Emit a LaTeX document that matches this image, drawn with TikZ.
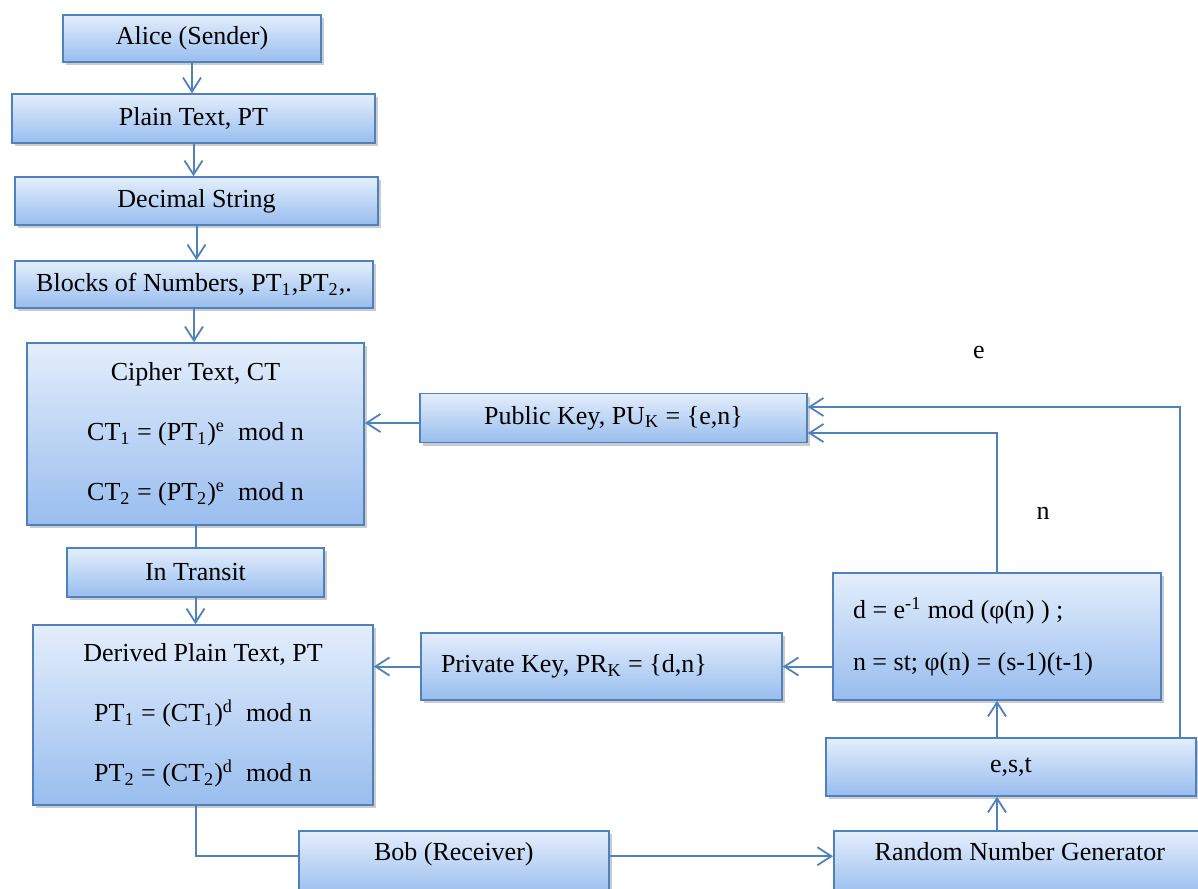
\documentclass[tikz,border=0pt]{standalone}
\usepackage{fontspec}
\setmainfont{Liberation Serif}
\usetikzlibrary{arrows.meta,shadows}
\definecolor{rsaline}{RGB}{79,129,189}
\definecolor{rsatop}{RGB}{228,238,252}
\definecolor{rsabottom}{RGB}{152,189,238}

\begin{document}
\begin{tikzpicture}[x=0.5pt,y=-0.5pt,
  box/.style={draw=rsaline, line width=0.8pt, top color=rsatop, bottom color=rsabottom,
    drop shadow={shadow xshift=1.5pt, shadow yshift=-1.5pt, opacity=0.4},
    font=\fontsize{13pt}{15.6pt}\selectfont, inner sep=0pt, align=center},
  lowbox/.style={box, anchor=north west, inner ysep=6pt, text height=9pt, text depth=12pt},
  arr/.style={draw=rsaline, line width=1pt, -{Straight Barb[length=7pt,width=9pt,line width=0.9pt]}},
  link/.style={draw=rsaline, line width=1pt}]
\useasboundingbox (0,0) rectangle (1198,888);
\clip (0,0) rectangle (1198,888);

% Alice side
\node[box, minimum width=129pt, minimum height=23.5pt] (alice) at (192,38.5) {Alice (Sender)};
\node[box, minimum width=181.5pt, minimum height=24.5pt] (plain) at (193.5,118.5) {Plain Text, PT};
\node[box, minimum width=181.5pt, minimum height=24pt] (decimal) at (196.5,201) {Decimal String};
\node[box, minimum width=179pt, minimum height=23.5pt] (blocks) at (194,284.5) {Blocks of Numbers, PT\textsubscript{1},PT\textsubscript{2},.};
\node[box, minimum width=168.5pt, minimum height=91pt] (cipher) at (195.5,434)
  {Cipher Text, CT\\[14.4pt] CT\textsubscript{1} = (PT\textsubscript{1})\textsuperscript{e}~ mod n\\[14.4pt] CT\textsubscript{2} = (PT\textsubscript{2})\textsuperscript{e}~ mod n};
\node[box, minimum width=128.5pt, minimum height=24.5pt] (transit) at (195.5,572.5) {In Transit};
\node[box, minimum width=170pt, minimum height=90pt] (derived) at (203,715)
  {Derived Plain Text, PT\\[14.4pt] PT\textsubscript{1} = (CT\textsubscript{1})\textsuperscript{d}~ mod n\\[14.4pt] PT\textsubscript{2} = (CT\textsubscript{2})\textsuperscript{d}~ mod n};

% keys
\node[box, minimum width=193.5pt, minimum height=24.5pt] (publick) at (613.5,418) {Public Key, PU\textsubscript{K} = \{e,n\}};
\node[box, text width=160.5pt, inner xsep=10pt, align=flush left, minimum height=33.5pt] (privatek) at (601.5,666.5) {Private Key, PR\textsubscript{K} = \{d,n\}};
\node[box, text width=144pt, inner xsep=10pt, align=flush left, minimum height=63.5pt] (keycalc) at (997,636.5)
  {d = e\textsuperscript{-1} mod (φ(n) ) ;\\[10.4pt] n = st; φ(n) = (s-1)(t-1)};
\node[box, minimum width=185pt, minimum height=29pt] (est) at (1011,767) {e,s,t};

% Bob side
\node[lowbox, minimum width=155pt] (bob) at (298,830) {Bob (Receiver)};
\node[lowbox, minimum width=186pt] (rng) at (833,830) {Random Number Generator};

\node[font=\fontsize{13pt}{15.6pt}\selectfont] (elabel) at (979,352) {e};
\node[font=\fontsize{13pt}{15.6pt}\selectfont] (nlabel) at (1043,513) {n};
\coordinate (eright) at (1180,407);

% connectors
\draw[arr] (alice.south) -- (alice.south|-plain.north);
\draw[arr] (plain.south) -- (plain.south|-decimal.north);
\draw[arr] (decimal.south) -- (decimal.south|-blocks.north);
\draw[arr] (blocks.south) -- (blocks.south|-cipher.north);
\draw[link] (cipher.south) -- (cipher.south|-transit.north);
\draw[arr] (transit.south) -- (transit.south|-derived.north);
\draw[link] (derived.south-|transit.south) |- (bob.mid west);
\draw[arr] (bob.mid east) -- (rng.mid west);
\draw[arr] (rng.north-|keycalc.south) -- (est.south-|keycalc.south);
\draw[arr] (est.north-|keycalc.south) -- (keycalc.south);
\draw[arr] (keycalc.north) |- ([yshift=-7.5pt]publick.east);
\draw[arr] (est.north-|eright) -- (eright) -- ([yshift=5.5pt]publick.east);
\draw[arr] (keycalc.west|-privatek.east) -- (privatek.east);
\draw[arr] (privatek.west) -- (privatek.west-|derived.east);
\draw[arr] ([yshift=-2.5pt]publick.west) -- ([yshift=-2.5pt]publick.west-|cipher.east);
\end{tikzpicture}
\end{document}
